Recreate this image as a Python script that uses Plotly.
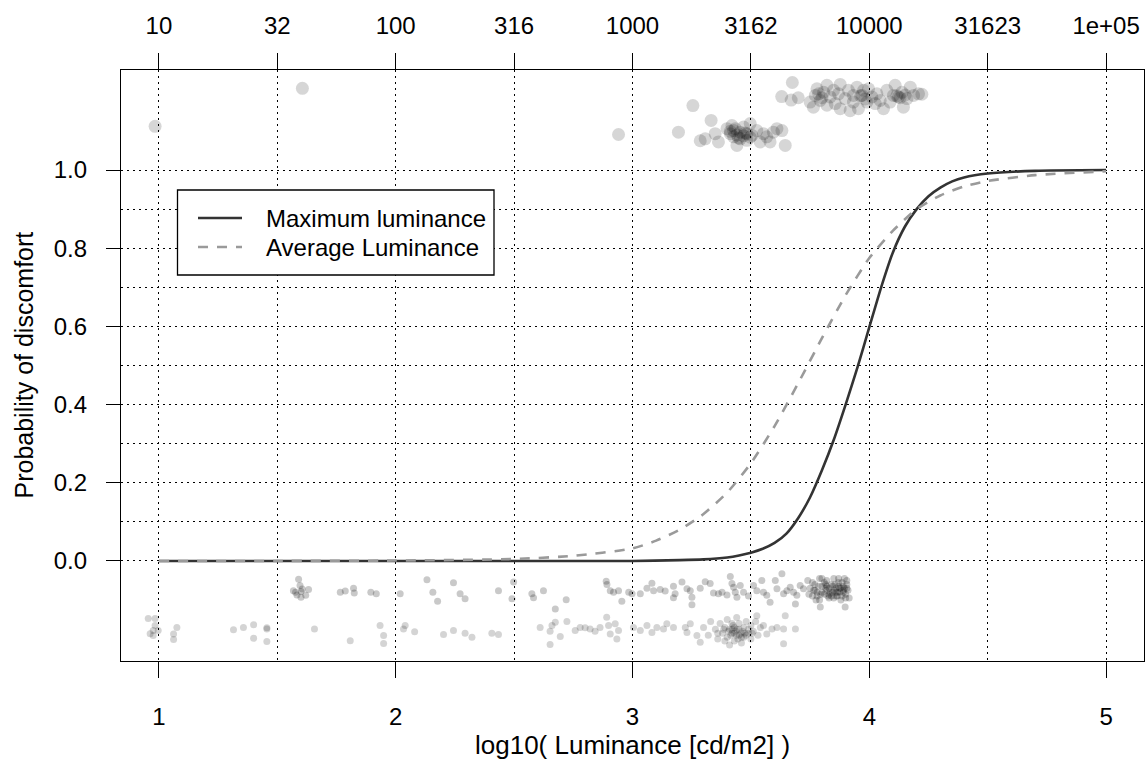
import plotly.graph_objects as go

# ---- data ----
# fitted curves (log10 luminance, probability)
max_x = [1.0, 1.5, 2.0, 2.5, 3.0, 3.2, 3.3, 3.4, 3.45, 3.5, 3.55, 3.6, 3.65, 3.7, 3.75, 3.8, 3.85,
         3.9, 3.95, 4.0, 4.05, 4.1, 4.15, 4.2, 4.25, 4.3, 4.35, 4.4, 4.5, 4.7, 5.0]
max_p = [0.0, 0.0, 0.0, 0.0, 0.0, 0.002, 0.004, 0.009, 0.014, 0.021, 0.031, 0.046, 0.07, 0.11, 0.163,
         0.232, 0.31, 0.40, 0.495, 0.598, 0.70, 0.79, 0.855, 0.90, 0.933, 0.955, 0.971, 0.981, 0.991,
         0.998, 1.0]
avg_x = [1.0, 1.5, 2.0, 2.5, 2.75, 3.0, 3.1, 3.2, 3.3, 3.4, 3.5, 3.6, 3.7, 3.8, 3.9, 4.0, 4.1, 4.2,
         4.3, 4.4, 4.5, 4.7, 5.0]
avg_p = [0.0, 0.0, 0.001, 0.005, 0.013, 0.032, 0.052, 0.08, 0.12, 0.175, 0.25, 0.345, 0.455, 0.57,
         0.68, 0.775, 0.845, 0.90, 0.935, 0.958, 0.972, 0.987, 0.997]

# jittered observations shown above the plot (discomfort = 1)
top_x = [0.984, 1.606, 2.941, 3.194, 3.255, 3.332, 3.675, 3.63, 3.67, 3.70,
         3.286, 3.307, 3.349, 3.363, 3.399, 3.413, 3.420, 3.427, 3.434, 3.441, 3.455, 3.469, 3.483,
         3.497, 3.504, 3.525, 3.539, 3.553, 3.567, 3.581, 3.595, 3.610, 3.631, 3.645, 3.455, 3.483, 3.427,
         3.441, 3.469, 3.413, 3.497, 3.448, 3.476,
         3.750, 3.772, 3.779, 3.793, 3.807, 3.821, 3.835, 3.849, 3.856, 3.870, 3.877, 3.898, 3.912, 3.919,
         3.933, 3.948, 3.954, 3.969, 3.976, 3.990, 3.997, 4.011, 4.025, 4.032, 4.046, 4.060, 4.074, 4.088,
         4.102, 4.109, 4.123, 4.138, 4.144, 4.159, 4.173, 4.187, 4.208, 4.222, 3.764, 3.933, 3.877, 3.821,
         3.786, 3.800, 3.963, 3.983, 4.116, 4.130, 4.152]
top_y = [1.112, 1.209, 1.091, 1.097, 1.165, 1.127, 1.224, 1.188, 1.179, 1.185,
         1.075, 1.080, 1.093, 1.072, 1.106, 1.093, 1.114, 1.085, 1.106, 1.063, 1.097, 1.110, 1.076,
         1.119, 1.089, 1.101, 1.072, 1.093, 1.085, 1.072, 1.097, 1.106, 1.101, 1.063, 1.080, 1.093, 1.101,
         1.090, 1.088, 1.099, 1.084, 1.082, 1.095,
         1.174, 1.191, 1.208, 1.178, 1.199, 1.217, 1.187, 1.204, 1.170, 1.195, 1.157, 1.183, 1.204, 1.152,
         1.174, 1.212, 1.157, 1.191, 1.204, 1.174, 1.208, 1.187, 1.170, 1.195, 1.178, 1.157, 1.204, 1.174,
         1.191, 1.217, 1.187, 1.199, 1.161, 1.183, 1.212, 1.191, 1.195, 1.194, 1.161, 1.191, 1.219, 1.166,
         1.195, 1.185, 1.190, 1.182, 1.190, 1.185, 1.192]

# jittered observations below the plot (discomfort = 0)
bot_max_x = [1.59, 1.596, 1.60, 1.583, 1.577, 1.62, 1.632, 1.60, 1.568, 1.605,
             1.766, 1.787, 1.822, 1.825, 1.895, 1.918,
             2.019, 2.132, 2.157, 2.177, 2.244, 2.272, 2.293, 2.434,
             2.498, 2.491, 2.575, 2.582, 2.624, 2.720, 2.674,
             2.889, 2.892, 2.906, 2.920, 2.941, 2.984, 2.998, 2.955,
             3.033, 3.061, 3.082, 3.089, 3.117, 3.138, 3.173, 3.173, 3.180, 3.209, 3.230, 3.244, 3.251, 3.251,
             3.286, 3.307, 3.328, 3.342, 3.363, 3.378, 3.399, 3.413, 3.420, 3.427, 3.434, 3.441, 3.455, 3.469, 3.490,
             3.511, 3.525, 3.546, 3.553, 3.567, 3.581, 3.603, 3.610, 3.631, 3.638, 3.652, 3.666, 3.680, 3.688,
             3.694, 3.708, 3.722,
             3.74, 3.75, 3.76, 3.77, 3.78, 3.79, 3.79, 3.80, 3.81, 3.82, 3.82, 3.83, 3.84, 3.845, 3.85, 3.86,
             3.86, 3.87, 3.875, 3.88, 3.89, 3.895, 3.90, 3.905, 3.91, 3.915, 3.76, 3.80, 3.83, 3.85, 3.87,
             3.89, 3.775, 3.815, 3.855, 3.905, 3.793, 3.898, 3.745, 3.825, 3.865, 3.885,
             3.77, 3.785, 3.80, 3.815, 3.83, 3.845, 3.86, 3.875, 3.89, 3.905, 3.78, 3.795, 3.81, 3.84,
             3.87, 3.885, 3.90, 3.82, 3.85, 3.88, 3.765, 3.835, 3.865, 3.895]
bot_max_y = [-0.047, -0.063, -0.078, -0.087, -0.080, -0.088, -0.073, -0.093, -0.076, -0.072,
             -0.080, -0.077, -0.070, -0.082, -0.080, -0.084,
             -0.084, -0.048, -0.080, -0.103, -0.056, -0.084, -0.097, -0.076,
             -0.054, -0.097, -0.084, -0.094, -0.076, -0.099, -0.123,
             -0.052, -0.060, -0.076, -0.080, -0.076, -0.080, -0.084, -0.103,
             -0.084, -0.070, -0.057, -0.076, -0.073, -0.077, -0.065, -0.094, -0.084, -0.054, -0.071, -0.076, -0.093, -0.112,
             -0.070, -0.053, -0.058, -0.082, -0.084, -0.080, -0.087, -0.040, -0.058, -0.067, -0.080, -0.093, -0.063, -0.080, -0.090,
             -0.063, -0.076, -0.050, -0.080, -0.088, -0.106, -0.050, -0.071, -0.033, -0.084, -0.076, -0.067, -0.080, -0.110,
             -0.088, -0.063, -0.071,
             -0.05, -0.07, -0.09, -0.06, -0.08, -0.045, -0.10, -0.065, -0.085, -0.05, -0.075, -0.095, -0.06, -0.08, -0.045, -0.07,
             -0.09, -0.055, -0.08, -0.10, -0.065, -0.045, -0.085, -0.06, -0.075, -0.095, -0.055, -0.045, -0.07, -0.095, -0.045,
             -0.08, -0.10, -0.06, -0.06, -0.05, -0.118, -0.118, -0.085, -0.09, -0.08, -0.09,
             -0.075, -0.065, -0.08, -0.07, -0.085, -0.065, -0.08, -0.07, -0.075, -0.07, -0.09, -0.085, -0.055, -0.09,
             -0.065, -0.055, -0.095, -0.065, -0.075, -0.07, -0.075, -0.08, -0.09, -0.07]

bot_avg_x = [0.955, 0.984, 0.984, 0.976, 0.963, 0.997, 0.976,
             1.076, 1.062, 1.062,
             1.315, 1.357, 1.40, 1.456, 1.456, 1.40, 1.456,
             1.657, 1.808, 1.934, 1.949, 1.949,
             2.04, 2.033, 2.08, 2.202, 2.244, 2.293, 2.322, 2.406, 2.434,
             2.610, 2.652, 2.660, 2.695, 2.652, 2.674, 2.723,
             2.758, 2.779, 2.800, 2.821, 2.842, 2.863, 2.891, 2.899, 2.906, 2.927, 2.934, 2.941,
             3.004, 3.033, 3.061, 3.082, 3.103, 3.131, 3.145, 3.173, 3.223, 3.230, 3.244, 3.272, 3.286,
             3.30, 3.32, 3.33, 3.35, 3.36, 3.37, 3.38, 3.39, 3.40, 3.40, 3.41, 3.42, 3.42, 3.43, 3.43, 3.44,
             3.44, 3.45, 3.45, 3.46, 3.46, 3.47, 3.48, 3.48, 3.49, 3.50, 3.50, 3.51, 3.52, 3.53, 3.54, 3.41,
             3.39, 3.36, 3.435, 3.445, 3.425, 3.47,
             3.405, 3.415, 3.43, 3.45, 3.465, 3.475, 3.49, 3.44, 3.42, 3.46, 3.385, 3.505,
             3.553, 3.567, 3.589, 3.610, 3.638, 3.645, 3.688, 3.525, 3.638]
bot_avg_y = [-0.147, -0.147, -0.165, -0.178, -0.186, -0.178, -0.191,
             -0.170, -0.187, -0.201,
             -0.176, -0.170, -0.163, -0.171, -0.174, -0.198, -0.206,
             -0.174, -0.204, -0.165, -0.191, -0.211,
             -0.165, -0.174, -0.181, -0.188, -0.178, -0.185, -0.195, -0.185, -0.188,
             -0.170, -0.180, -0.165, -0.193, -0.214, -0.157, -0.155,
             -0.178, -0.170, -0.171, -0.174, -0.180, -0.170, -0.144, -0.165, -0.187, -0.161, -0.200, -0.178,
             -0.170, -0.178, -0.165, -0.183, -0.170, -0.174, -0.161, -0.170, -0.170, -0.183, -0.161, -0.191, -0.208,
             -0.17, -0.19, -0.155, -0.175, -0.20, -0.16, -0.185, -0.17, -0.15, -0.195, -0.175, -0.16, -0.185, -0.205, -0.17, -0.145,
             -0.19, -0.175, -0.16, -0.185, -0.21, -0.17, -0.155, -0.19, -0.175, -0.165, -0.20, -0.18, -0.155, -0.19, -0.17, -0.215,
             -0.205, -0.185, -0.18, -0.20, -0.165, -0.195,
             -0.18, -0.19, -0.185, -0.19, -0.18, -0.185, -0.185, -0.175, -0.175, -0.195, -0.175, -0.185,
             -0.165, -0.187, -0.174, -0.170, -0.174, -0.140, -0.174, -0.140, -0.212]

# axis ticks
bottom_ticks = [1, 2, 3, 4, 5]
top_ticks = [1, 1.5, 2, 2.5, 3, 3.5, 4, 4.5, 5]
top_labels = ["10", "32", "100", "316", "1000", "3162", "10000", "31623", "1e+05"]
y_ticks = [0, 0.2, 0.4, 0.6, 0.8, 1.0]
y_labels = ["0.0", "0.2", "0.4", "0.6", "0.8", "1.0"]
y_grid = [0, 0.1, 0.2, 0.3, 0.4, 0.5, 0.6, 0.7, 0.8, 0.9, 1.0]
series_names = ["Maximum luminance", "Average Luminance"]

FONT = "Liberation Sans, Arial, Helvetica, sans-serif"
FS_TICK = 24
FS_XTITLE = 26
FS_YTITLE = 25
FS_LEG = 24
XR = [0.84, 5.16]
YR = [-0.256, 1.256]

W, H = 1147, 763
ML, MR, MT, MB = 121, 3, 70, 102
PW, PH = W - ML - MR, H - MT - MB


def px(xp):
    return (xp - ML) / PW


def py(yp):
    return (H - MB - yp) / PH


SOLID_COL = "#333333"
DASH_COL = "#9a9a9a"
DASH = "10px,9px"

fig = go.Figure()

fig.add_trace(go.Scatter(x=top_x, y=top_y, mode="markers", showlegend=False, hoverinfo="skip",
                         marker=dict(size=13, color="rgba(0,0,0,0.16)", line=dict(width=0))))
fig.add_trace(go.Scatter(x=bot_max_x, y=bot_max_y, mode="markers", showlegend=False, hoverinfo="skip",
                         marker=dict(size=7, color="rgba(0,0,0,0.21)", line=dict(width=0))))
fig.add_trace(go.Scatter(x=bot_avg_x, y=bot_avg_y, mode="markers", showlegend=False, hoverinfo="skip",
                         marker=dict(size=7, color="rgba(0,0,0,0.17)", line=dict(width=0))))

fig.add_trace(go.Scatter(x=max_x, y=max_p, mode="lines", name=series_names[0], showlegend=False,
                         line=dict(color=SOLID_COL, width=2.6, shape="spline", smoothing=0.6)))
fig.add_trace(go.Scatter(x=avg_x, y=avg_p, mode="lines", name=series_names[1], showlegend=False,
                         line=dict(color=DASH_COL, width=2.6, dash=DASH, shape="spline", smoothing=0.6)))

# dummy trace for the top/grid axes
fig.add_trace(go.Scatter(x=[None], y=[None], xaxis="x2", yaxis="y2", showlegend=False, hoverinfo="skip"))

# legend box (drawn in R style)
leg_x0, leg_x1, leg_y0, leg_y1 = 177.5, 494, 190, 275
row_y = [218, 247]
shapes = [
    dict(type="rect", xref="paper", yref="paper", x0=px(leg_x0), x1=px(leg_x1), y0=py(leg_y1), y1=py(leg_y0),
         fillcolor="white", line=dict(color="black", width=1.3), layer="above"),
    dict(type="line", xref="paper", yref="paper", x0=px(198), x1=px(242), y0=py(row_y[0]), y1=py(row_y[0]),
         line=dict(color=SOLID_COL, width=2.6), layer="above"),
    dict(type="line", xref="paper", yref="paper", x0=px(198), x1=px(242), y0=py(row_y[1]), y1=py(row_y[1]),
         line=dict(color=DASH_COL, width=2.6, dash=DASH), layer="above"),
]
annotations = [
    dict(text=series_names[0], xref="paper", yref="paper", x=px(264), y=py(row_y[0]), xanchor="left",
         yanchor="middle", showarrow=False, font=dict(size=FS_LEG)),
    dict(text=series_names[1], xref="paper", yref="paper", x=px(264), y=py(row_y[1]), xanchor="left",
         yanchor="middle", showarrow=False, font=dict(size=FS_LEG)),
    dict(text="log10( Luminance [cd/m2] )", xref="paper", yref="paper", x=0.5, y=0,
         yshift=-84, showarrow=False, font=dict(size=FS_XTITLE), yanchor="middle"),
    dict(text="Probability of discomfort", xref="paper", yref="paper", x=0, y=0.5,
         xshift=-98, textangle=-90, showarrow=False, font=dict(size=FS_YTITLE), xanchor="center"),
]

fig.update_layout(
    width=W, height=H,
    margin=dict(l=ML, r=MR, t=MT, b=MB),
    paper_bgcolor="white", plot_bgcolor="white",
    font=dict(family=FONT, size=FS_TICK, color="black"),
    showlegend=False,
    xaxis=dict(range=XR, tickvals=bottom_ticks, ticktext=[str(v) for v in bottom_ticks],
               ticks="outside", ticklen=16, tickwidth=1.3, tickcolor="black",
               showline=True, linecolor="black", linewidth=1.3, mirror=True,
               showgrid=False, zeroline=False, ticklabelstandoff=18,
               tickfont=dict(size=FS_TICK)),
    xaxis2=dict(range=XR, overlaying="x", side="top", anchor="y2",
                tickvals=top_ticks, ticktext=top_labels,
                ticks="outside", ticklen=16, tickwidth=1.3, tickcolor="black",
                showline=False, showgrid=True, gridcolor="black", gridwidth=1.1, griddash="2px,4px",
                zeroline=False, ticklabelstandoff=9, tickfont=dict(size=FS_TICK)),
    yaxis=dict(range=YR, tickvals=y_ticks, ticktext=y_labels,
               ticks="outside", ticklen=14, tickwidth=1.3, tickcolor="black",
               showline=True, linecolor="black", linewidth=1.3, mirror=True,
               showgrid=False, zeroline=False, ticklabelstandoff=14, tickfont=dict(size=FS_TICK)),
    yaxis2=dict(range=YR, overlaying="y", anchor="x2", side="left", tickvals=y_grid,
                showticklabels=False, ticks="", showgrid=True, gridcolor="black", gridwidth=1.1,
                griddash="2px,4px", zeroline=False),
    shapes=shapes,
    annotations=annotations,
)

fig.write_html("out.html")
